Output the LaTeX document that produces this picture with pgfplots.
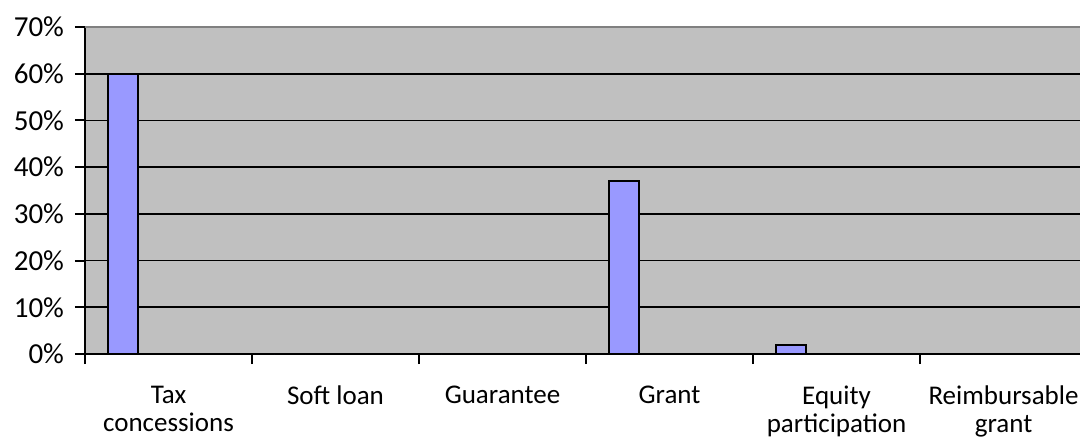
\documentclass[border=0pt]{standalone}
\usepackage{pgfplots}
\pgfplotsset{compat=1.18}
\usepackage{fontspec}
\setmainfont{Carlito}
\definecolor{plotbg}{HTML}{C0C0C0}
\definecolor{barfill}{HTML}{9999FF}
\begin{document}
\begin{tikzpicture}
\begin{axis}[
  scale only axis, width=497.5bp, height=163.5bp,
  xmin=0, xmax=5.958, ymin=0, ymax=70,
  axis x line*=bottom, axis y line*=left,
  axis line style={black, line width=1bp, -},
  axis background/.style={fill=plotbg},
  /pgf/number format/assume math mode=true,
  tick label style={font=\fontsize{13.5bp}{14bp}\selectfont, text=black},
  ytick={0,10,...,70}, yticklabel={\pgfmathprintnumber{\tick}\%},
  yticklabel style={xshift=-2bp, font=\fontsize{14.5bp}{15bp}\selectfont},
  ymajorgrids, major grid style={black, line width=0.9bp},
  tick align=outside, major tick length=5bp,
  tick style={black, line width=1bp},
  xtick={0,1,2,3,4,5}, xticklabels={},
  extra x ticks={0.5,1.5,2.5,3.5,4.5,5.5},
  extra x tick labels={{Tax\\concessions},{Soft loan},{Guarantee},{Grant},{Equity\\participation},{Reimbursable\\grant}},
  extra x tick style={major tick length=0pt, xticklabel style={align=center, yshift=-12.5bp}},
  clip=false,
]
\addplot[ybar, bar width=0.1818, fill=barfill, draw=black, line width=1bp]
  coordinates {(0.227,60) (1.227,0) (2.227,0) (3.227,37) (4.227,2) (5.227,0)};
\draw[color=gray, line width=1bp] (rel axis cs:0,1) -- (rel axis cs:1,1);
\end{axis}
\pgfresetboundingbox
\path[use as bounding box] (-42.5bp,-44bp) rectangle (497.5bp,177bp);
\end{tikzpicture}
\end{document}
